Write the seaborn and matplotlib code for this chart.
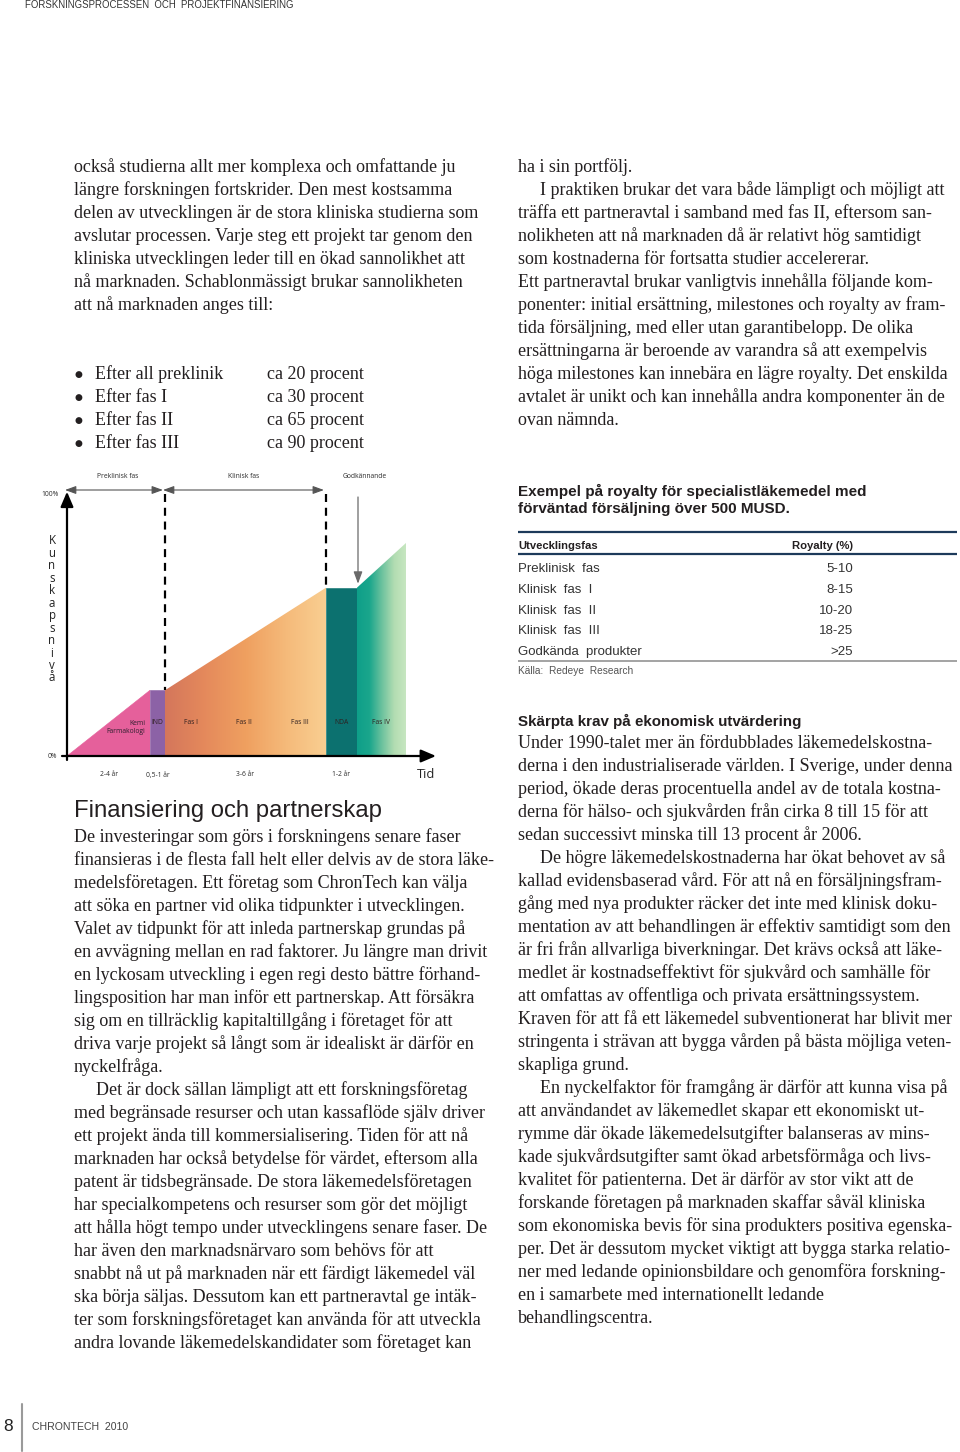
import numpy as np
import pandas as pd
import matplotlib
matplotlib.use("Agg")
import matplotlib.pyplot as plt
import seaborn as sns
from matplotlib.patches import Polygon
from matplotlib.colors import LinearSegmentedColormap
from matplotlib.lines import Line2D

# ---------------- data ----------------
stage_bounds = [0, 83, 98, 259, 290, 339]      # time axis (relative units)
knowledge = [0, 25, 25, 64, 64, 81]            # knowledge level (%) at bounds
phase_labels = ["Kemi\nFarmakologi", "IND", "Fas I", "Fas II", "Fas III", "NDA", "Fas IV"]
duration_labels = ["2-4 år", "0,5-1 år", "3-6 år", "1-2 år"]
period_labels = ["Preklinisk fas", "Klinisk fas", "Godkännande"]
y_axis_title = "Kunskapsnivå"
x_axis_title = "Tid"
y_tick_labels = ["0%", "100%"]

table_title = ["Exempel på royalty för specialistläkemedel med",
               "förväntad försäljning över 500 MUSD."]
table_header = ["Utvecklingsfas", "Royalty (%)"]
table_phases = ["Preklinisk  fas", "Klinisk  fas  I", "Klinisk  fas  II",
                "Klinisk  fas  III", "Godkända  produkter"]
table_royalty = ["5-10", "8-15", "10-20", "18-25", ">25"]
table_source = "Källa:  Redeye  Research"

page_header = "FORSKNINGSPROCESSEN  OCH  PROJEKTFINANSIERING"
page_number = "8"
page_footer = "CHRONTECH  2010"

text_top_left = [
    "också studierna allt mer komplexa och omfattande ju",
    "längre forskningen fortskrider. Den mest kostsamma",
    "delen av utvecklingen är de stora kliniska studierna som",
    "avslutar processen. Varje steg ett projekt tar genom den",
    "kliniska utvecklingen leder till en ökad sannolikhet att",
    "nå marknaden. Schablonmässigt brukar sannolikheten",
    "att nå marknaden anges till:",
]
bullet_items = ["Efter all preklinik", "Efter fas I", "Efter fas II", "Efter fas III"]
bullet_values = ["ca 20 procent", "ca 30 procent", "ca 65 procent", "ca 90 procent"]

text_top_right = [
    "ha i sin portfölj.",
    "\tI praktiken brukar det vara både lämpligt och möjligt att",
    "träffa ett partneravtal i samband med fas II, eftersom san-",
    "nolikheten att nå marknaden då är relativt hög samtidigt",
    "som kostnaderna för fortsatta studier accelererar.",
    "Ett partneravtal brukar vanligtvis innehålla följande kom-",
    "ponenter: initial ersättning, milestones och royalty av fram-",
    "tida försäljning, med eller utan garantibelopp. De olika",
    "ersättningarna är beroende av varandra så att exempelvis",
    "höga milestones kan innebära en lägre royalty. Det enskilda",
    "avtalet är unikt och kan innehålla andra komponenter än de",
    "ovan nämnda.",
]

heading_left = "Finansiering och partnerskap"
text_bottom_left = [
    "De investeringar som görs i forskningens senare faser",
    "finansieras i de flesta fall helt eller delvis av de stora läke-",
    "medelsföretagen. Ett företag som ChronTech kan välja",
    "att söka en partner vid olika tidpunkter i utvecklingen.",
    "Valet av tidpunkt för att inleda partnerskap grundas på",
    "en avvägning mellan en rad faktorer. Ju längre man drivit",
    "en lyckosam utveckling i egen regi desto bättre förhand-",
    "lingsposition har man inför ett partnerskap. Att försäkra",
    "sig om en tillräcklig kapitaltillgång i företaget för att",
    "driva varje projekt så långt som är idealiskt är därför en",
    "nyckelfråga.",
    "\tDet är dock sällan lämpligt att ett forskningsföretag",
    "med begränsade resurser och utan kassaflöde själv driver",
    "ett projekt ända till kommersialisering. Tiden för att nå",
    "marknaden har också betydelse för värdet, eftersom alla",
    "patent är tidsbegränsade. De stora läkemedelsföretagen",
    "har specialkompetens och resurser som gör det möjligt",
    "att hålla högt tempo under utvecklingens senare faser. De",
    "har även den marknadsnärvaro som behövs för att",
    "snabbt nå ut på marknaden när ett färdigt läkemedel väl",
    "ska börja säljas. Dessutom kan ett partneravtal ge intäk-",
    "ter som forskningsföretaget kan använda för att utveckla",
    "andra lovande läkemedelskandidater som företaget kan",
]

heading_right = "Skärpta krav på ekonomisk utvärdering"
text_bottom_right = [
    "Under 1990-talet mer än fördubblades läkemedelskostna-",
    "derna i den industrialiserade världen. I Sverige, under denna",
    "period, ökade deras procentuella andel av de totala kostna-",
    "derna för hälso- och sjukvården från cirka 8 till 15 för att",
    "sedan successivt minska till 13 procent år 2006.",
    "\tDe högre läkemedelskostnaderna har ökat behovet av så",
    "kallad evidensbaserad vård. För att nå en försäljningsfram-",
    "gång med nya produkter räcker det inte med klinisk doku-",
    "mentation av att behandlingen är effektiv samtidigt som den",
    "är fri från allvarliga biverkningar. Det krävs också att läke-",
    "medlet är kostnadseffektivt för sjukvård och samhälle för",
    "att omfattas av offentliga och privata ersättningssystem.",
    "Kraven för att få ett läkemedel subventionerat har blivit mer",
    "stringenta i strävan att bygga vården på bästa möjliga veten-",
    "skapliga grund.",
    "\tEn nyckelfaktor för framgång är därför att kunna visa på",
    "att användandet av läkemedlet skapar ett ekonomiskt ut-",
    "rymme där ökade läkemedelsutgifter balanseras av mins-",
    "kade sjukvårdsutgifter samt ökad arbetsförmåga och livs-",
    "kvalitet för patienterna. Det är därför av stor vikt att de",
    "forskande företagen på marknaden skaffar såväl kliniska",
    "som ekonomiska bevis för sina produkters positiva egenska-",
    "per. Det är dessutom mycket viktigt att bygga starka relatio-",
    "ner med ledande opinionsbildare och genomföra forskning-",
    "en i samarbete med internationellt ledande",
    "behandlingscentra.",
]

# ---------------- setup ----------------
sns.set_theme(style="white")
plt.rcParams["font.family"] = ["Liberation Sans", "DejaVu Sans"]

W, H = 960, 1452
fig = plt.figure(figsize=(W / 100, H / 100), dpi=100)
fig.patch.set_facecolor("white")
renderer = fig.canvas.get_renderer()

SERIF = "Liberation Serif"
SANS = "Liberation Sans"
CHART = "Open Sans"
INK = "#231f20"


def fx(x):
    return x / W


def fy(y):
    return 1 - y / H


def measure(s, size, **kw):
    t = fig.text(0, 0, s, fontsize=size, **kw)
    w = t.get_window_extent(renderer=renderer).width
    t.remove()
    return w


def fit(s, target, **kw):
    return 10 * target / measure(s, 10, **kw)


def put(x, y, s, **kw):
    kw.setdefault("va", "baseline")
    kw.setdefault("color", INK)
    return fig.text(fx(x), fy(y), s, **kw)


def hline(x0, x1, y, color, lw):
    fig.add_artist(Line2D([fx(x0), fx(x1)], [fy(y), fy(y)], color=color, lw=lw,
                          solid_capstyle="butt"))


body_size = fit(text_top_left[2], 404, family=SERIF)


def paragraph(lines, x, y0, step=23.0, indent=22):
    for i, line in enumerate(lines):
        xx = x
        if line.startswith("\t"):
            line = line[1:]
            xx = x + indent
        put(xx, y0 + i * step, line, family=SERIF, fontsize=body_size)


# ---------------- page text ----------------
put(25, 8.5, page_header, family=SANS, color="#333333",
    fontsize=fit(page_header, 268, family=SANS))

paragraph(text_top_left, 74, 172)
for i, (item, val) in enumerate(zip(bullet_items, bullet_values)):
    yb = 379 + i * 23
    fig.text(fx(78), fy(yb - 4.5), "\u25CF", family="DejaVu Sans", fontsize=6.5,
             ha="center", va="center", color=INK)
    put(95, yb, item, family=SERIF, fontsize=body_size)
    put(267, yb, val, family=SERIF, fontsize=body_size)

paragraph(text_top_right, 518, 172)

put(74, 817, heading_left, family=SANS, fontsize=fit(heading_left, 309, family=SANS))
paragraph(text_bottom_left, 74, 842)

put(518, 726, heading_right, family=SANS, weight="bold",
    fontsize=fit(heading_right, 285, family=SANS, weight="bold"))
paragraph(text_bottom_right, 518, 748)

# ---------------- royalty table ----------------
tsize = fit(table_title[0], 347, family=SANS, weight="bold")
put(518, 496, table_title[0], family=SANS, weight="bold", fontsize=tsize)
put(518, 513, table_title[1], family=SANS, weight="bold", fontsize=tsize)

NAVY = "#1d3a5a"
hline(518, 957, 532, NAVY, 1.6)
hsize = fit(table_header[0], 80, family=SANS, weight="bold")
put(518, 549, table_header[0], family=SANS, weight="bold", fontsize=hsize)
put(853, 549, table_header[1], family=SANS, weight="bold", fontsize=hsize, ha="right")
hline(518, 957, 554, NAVY, 1.6)

rsize = fit(table_phases[-1], 125, family=SANS)
for i, (ph, rv) in enumerate(zip(table_phases, table_royalty)):
    yb = 572 + i * 20.8
    put(518, yb, ph, family=SANS, fontsize=rsize, color="#333333")
    put(853, yb, rv, family=SANS, fontsize=rsize, color="#333333", ha="right")
hline(518, 957, 661, "#8a8a8a", 1.1)
put(518, 674, table_source, family=SANS, color="#555555",
    fontsize=fit(table_source, 115, family=SANS))

# ---------------- footer ----------------
put(3, 1431, page_number, family=SANS, fontsize=12.5, color="#222222")
fig.add_artist(Line2D([fx(22), fx(22)], [fy(1404), fy(1451)], color="#9a9a9a", lw=1.5))
put(32, 1430.5, page_footer, family=SANS, color="#444444",
    fontsize=fit(page_footer, 96, family=SANS))

# ---------------- chart ----------------
X0, Y0, YTOP = 67, 756, 493


def lvl(py):
    return (Y0 - py) / (Y0 - YTOP) * 100


ax = fig.add_axes([fx(40), fy(790), (445 - 40) / W, (790 - 470) / H])
ax.set_facecolor("none")

segment_colors = [
    ["#E5609B", "#E5609B"],
    ["#8C62A6", "#8C62A6"],
    ["#D4765B", "#E58A5C", "#EFA060", "#F5BA7A", "#F9CF92"],
    ["#0C716F", "#0C716F"],
    ["#0E9F89", "#1AA68C", "#6CC29E", "#B3DDB2", "#C9E7C2"],
]
for i in range(len(stage_bounds) - 1):
    xa, xb = stage_bounds[i], stage_bounds[i + 1]
    ya, yb = knowledge[i], knowledge[i + 1]
    verts = [(xa, 0), (xa, ya), (xb, yb), (xb, 0)]
    cols = segment_colors[i]
    if cols[0] == cols[-1]:
        ax.add_patch(Polygon(verts, closed=True, facecolor=cols[0],
                             edgecolor=cols[0], lw=0.4, zorder=1))
    else:
        cmap = LinearSegmentedColormap.from_list(f"seg{i}", cols)
        grad = np.linspace(0, 1, 256)[None, :]
        poly = Polygon(verts, closed=True, facecolor="none", edgecolor="none",
                       transform=ax.transData)
        ax.add_patch(poly)
        im = ax.imshow(grad, cmap=cmap, extent=[xa - 0.3, xb + 0.3, 0, max(ya, yb)],
                       aspect="auto", origin="lower", interpolation="bilinear", zorder=1)
        im.set_clip_path(poly)

# dashed separators between phases (seaborn)
sep_rows = []
for k, idx in enumerate([2, 3]):
    sep_rows.append({"t": stage_bounds[idx], "level": 99.5, "sep": k})
    sep_rows.append({"t": stage_bounds[idx], "level": knowledge[idx], "sep": k})
sep_df = pd.DataFrame(sep_rows)
sns.lineplot(data=sep_df, x="t", y="level", units="sep", estimator=None, sort=False,
             color="black", lw=1.6, linestyle=(0, (3.6, 2.6)), ax=ax, legend=False,
             zorder=3)

# axes arrows
ax.annotate("", xy=(369, 0), xytext=(-5, 0),
            arrowprops=dict(arrowstyle="-|>,head_length=0.75,head_width=0.32",
                            color="black", lw=1.6, shrinkA=0, shrinkB=0), zorder=4)
ax.annotate("", xy=(0, 100.5), xytext=(0, -1.5),
            arrowprops=dict(arrowstyle="-|>,head_length=0.75,head_width=0.32",
                            color="black", lw=1.6, shrinkA=0, shrinkB=0), zorder=4)

# period arrows on top
ytop_arrow = lvl(490)
for xa, xb in [(stage_bounds[0], stage_bounds[2]), (stage_bounds[2], stage_bounds[3])]:
    ax.annotate("", xy=(xb, ytop_arrow), xytext=(xa - 2, ytop_arrow),
                arrowprops=dict(arrowstyle="<|-|>,head_length=0.55,head_width=0.2",
                                color="#555555", lw=0.8, shrinkA=0, shrinkB=1.5),
                zorder=4)
ax.annotate("", xy=(stage_bounds[4] + 1, knowledge[4] + 1.5),
            xytext=(stage_bounds[4] + 1, lvl(497)),
            arrowprops=dict(arrowstyle="-|>,head_length=0.6,head_width=0.22",
                            color="#6a6a6a", lw=0.9, shrinkA=0, shrinkB=0), zorder=4)

small = fit(period_labels[0], 41, family=CHART)
LAB = "#2a2a2a"
top_x = [(stage_bounds[0] + stage_bounds[2]) / 2 + 2,
         (stage_bounds[2] + stage_bounds[3]) / 2 - 2,
         stage_bounds[4] + 8]
for s, xx in zip(period_labels, top_x):
    ax.text(xx, lvl(477), s, ha="center", va="center", fontsize=small,
            family=CHART, color=LAB)

# phase labels
orange_span = stage_bounds[3] - stage_bounds[2]
phase_x = [stage_bounds[1] - 5,
           (stage_bounds[1] + stage_bounds[2]) / 2,
           stage_bounds[2] + 0.16 * orange_span,
           stage_bounds[2] + 0.49 * orange_span,
           stage_bounds[2] + 0.84 * orange_span,
           (stage_bounds[3] + stage_bounds[4]) / 2,
           (stage_bounds[4] + stage_bounds[5]) / 2]
for i, (s, xx) in enumerate(zip(phase_labels, phase_x)):
    if i == 0:
        ax.text(xx, lvl(727.5), s, ha="right", va="center", fontsize=small,
                family=CHART, color="#2e1f2e", multialignment="right", linespacing=1.35)
    else:
        ax.text(xx, lvl(722), s, ha="center", va="center", fontsize=small,
                family=CHART, color="#2e1f1f")

# duration labels
dur_x = [(stage_bounds[0] + stage_bounds[1]) / 2 + 1,
         (stage_bounds[1] + stage_bounds[2]) / 2,
         (stage_bounds[2] + stage_bounds[3]) / 2 - 0.5,
         (stage_bounds[3] + stage_bounds[4]) / 2]
for s, xx in zip(duration_labels, dur_x):
    ax.text(xx, lvl(775), s, ha="center", va="center", fontsize=small,
            family=CHART, color=LAB)

ax.text(426 - X0, lvl(774), x_axis_title, ha="center", va="center", fontsize=9.3,
        family=CHART, color="#222222")
ax.text(57 - X0, lvl(757), y_tick_labels[0], ha="right", va="center", fontsize=small,
        family=CHART, color=LAB)
ax.text(59 - X0, lvl(495), y_tick_labels[1], ha="right", va="center", fontsize=small,
        family=CHART, color=LAB)
for i, ch in enumerate(y_axis_title):
    ax.text(52 - X0, lvl(541 + i * 12.45), ch, ha="center", va="center", fontsize=8.3,
            family=CHART, color="#222222")

ax.set_xlim(40 - X0, 445 - X0)
ax.set_ylim(lvl(790), lvl(470))
ax.set_xlabel("")
ax.set_ylabel("")
ax.axis("off")

fig.savefig("out.png", dpi=100, facecolor="white")
